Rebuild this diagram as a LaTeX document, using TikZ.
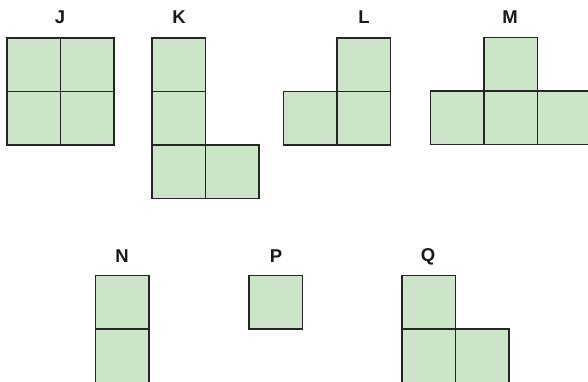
\documentclass[tikz,border=0pt]{standalone}
\usepackage{fontspec}
\setmainfont{Liberation Sans}
\definecolor{cellfill}{HTML}{CCE5C9}
\definecolor{cellline}{HTML}{262626}
\tikzset{
  cell/.style={draw=cellline, fill=cellfill, line width=1.3pt, minimum size=53.5pt, inner sep=0pt, outer sep=0pt},
  lab/.style={font=\fontsize{18.5}{18.5}\selectfont\bfseries, text=black!90, inner sep=0pt}
}
\begin{document}
\begin{tikzpicture}[x=1pt,y=-1pt]
\useasboundingbox (0,0) rectangle (588,382);
\clip (0,0) rectangle (588,382);
% J
\node[lab] (lJ) at (60,17.5) {J};
\node[cell,anchor=north west] (j1) at (7,38) {};
\node[cell,anchor=north west] (j2) at (60.5,38) {};
\node[cell,anchor=north west] (j3) at (7,91.5) {};
\node[cell,anchor=north west] (j4) at (60.5,91.5) {};
% K
\node[lab] (lK) at (179,17.5) {K};
\node[cell,anchor=north west] (k1) at (152,38) {};
\node[cell,anchor=north west] (k2) at (152,91.5) {};
\node[cell,anchor=north west] (k3) at (152,145) {};
\node[cell,anchor=north west] (k4) at (205.5,145) {};
% L
\node[lab] (lL) at (364,17.5) {L};
\node[cell,anchor=north west] (l1) at (337,38) {};
\node[cell,anchor=north west] (l2) at (283.5,91.5) {};
\node[cell,anchor=north west] (l3) at (337,91.5) {};
% M
\node[lab] (lM) at (510,17) {M};
\node[cell,anchor=north west] (m1) at (484,37.5) {};
\node[cell,anchor=north west] (m2) at (430.5,91) {};
\node[cell,anchor=north west] (m3) at (484,91) {};
\node[cell,anchor=north west] (m4) at (537.5,91) {};
% N
\node[lab] (lN) at (122,256.5) {N};
\node[cell,anchor=north west] (n1) at (95.5,275.5) {};
\node[cell,anchor=north west] (n2) at (95.5,329) {};
% P
\node[lab] (lP) at (276,256.5) {P};
\node[cell,anchor=north west] (p1) at (249,275.5) {};
% Q
\node[lab] (lQ) at (428,256.5) {Q};
\node[cell,anchor=north west] (q1) at (402,275.5) {};
\node[cell,anchor=north west] (q2) at (402,329) {};
\node[cell,anchor=north west] (q3) at (455.5,329) {};
\end{tikzpicture}
\end{document}
